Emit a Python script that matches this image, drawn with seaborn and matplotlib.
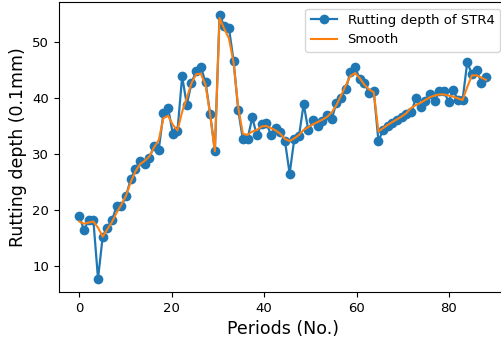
import numpy as np
import pandas as pd
import matplotlib
matplotlib.use("Agg")
import matplotlib.pyplot as plt
import seaborn as sns

# Measured rut depth per inspection period (0.1 mm)
rut_depth = [
    19.0, 16.4, 18.3, 18.3, 7.8, 15.3, 16.9, 18.2, 20.8, 20.7,
    22.6, 25.5, 27.3, 28.8, 28.2, 29.3, 31.5, 30.8, 37.3, 38.2,
    33.6, 34.1, 43.8, 38.8, 42.6, 44.8, 45.5, 42.8, 37.1, 30.5,
    54.7, 52.8, 52.5, 46.6, 37.8, 32.6, 32.7, 36.5, 33.3, 35.4,
    35.6, 33.4, 34.6, 34.0, 32.3, 26.5, 32.7, 33.2, 38.9, 34.2,
    36.0, 35.0, 35.8, 37.0, 36.2, 39.1, 40.0, 41.5, 44.6, 45.5,
    43.3, 42.7, 40.9, 41.2, 32.3, 34.3, 35.0, 35.5, 36.0, 36.5,
    37.2, 37.4, 39.9, 38.4, 39.5, 40.6, 39.4, 41.2, 41.2, 39.3,
    41.4, 39.6, 39.6, 46.3, 44.2, 45.0, 42.7, 43.7,
]

# Smoothed trend of the same series
smooth = [
    18.0, 17.6, 17.8, 18.0, 16.9, 15.3, 16.6, 17.9, 19.6, 21.0,
    22.6, 25.0, 26.9, 28.2, 28.8, 29.6, 31.2, 32.5, 36.4, 36.8,
    35.2, 34.2, 37.5, 40.0, 42.6, 44.2, 44.3, 42.3, 37.0, 30.5,
    54.2, 52.3, 50.6, 46.3, 38.3, 33.6, 33.4, 34.0, 34.3, 34.9,
    35.0, 34.6, 34.2, 33.6, 32.7, 32.3, 32.8, 33.4, 34.3, 34.8,
    35.3, 35.7, 36.1, 36.6, 37.4, 38.7, 40.4, 42.2, 43.9, 44.4,
    43.5, 42.3, 41.5, 41.0, 34.0, 34.6, 35.2, 35.7, 36.2, 36.7,
    37.3, 38.2, 38.7, 39.1, 39.6, 40.1, 40.4, 40.6, 40.6, 40.4,
    40.2, 39.9, 39.6, 41.9, 44.0, 44.0, 43.6, 43.2,
]

periods = np.linspace(0, 88, len(rut_depth))

df = pd.DataFrame({"period": periods, "rut": rut_depth, "smooth": smooth})

fig = plt.figure(figsize=(5.02, 3.47), dpi=100)
ax = fig.add_axes([0.1175, 0.1585, 0.891, 0.8357])

sns.lineplot(data=df, x="period", y="rut", ax=ax, color="#1f77b4",
             marker="o", markersize=7, markeredgewidth=0, linewidth=1.6,
             label="Rutting depth of STR4")
sns.lineplot(data=df, x="period", y="smooth", ax=ax, color="#ff7f0e",
             linewidth=1.5, label="Smooth")

ax.set_xlabel("Periods (No.)", fontsize=12.5)
ax.set_ylabel("Rutting depth (0.1mm)", fontsize=12.5)
ax.set_xticks([0, 20, 40, 60, 80])
ax.set_yticks([10, 20, 30, 40, 50])
ax.tick_params(labelsize=9.5)
ax.legend(loc="upper right", fontsize=9.5)

fig.savefig("out.png", dpi=100)
